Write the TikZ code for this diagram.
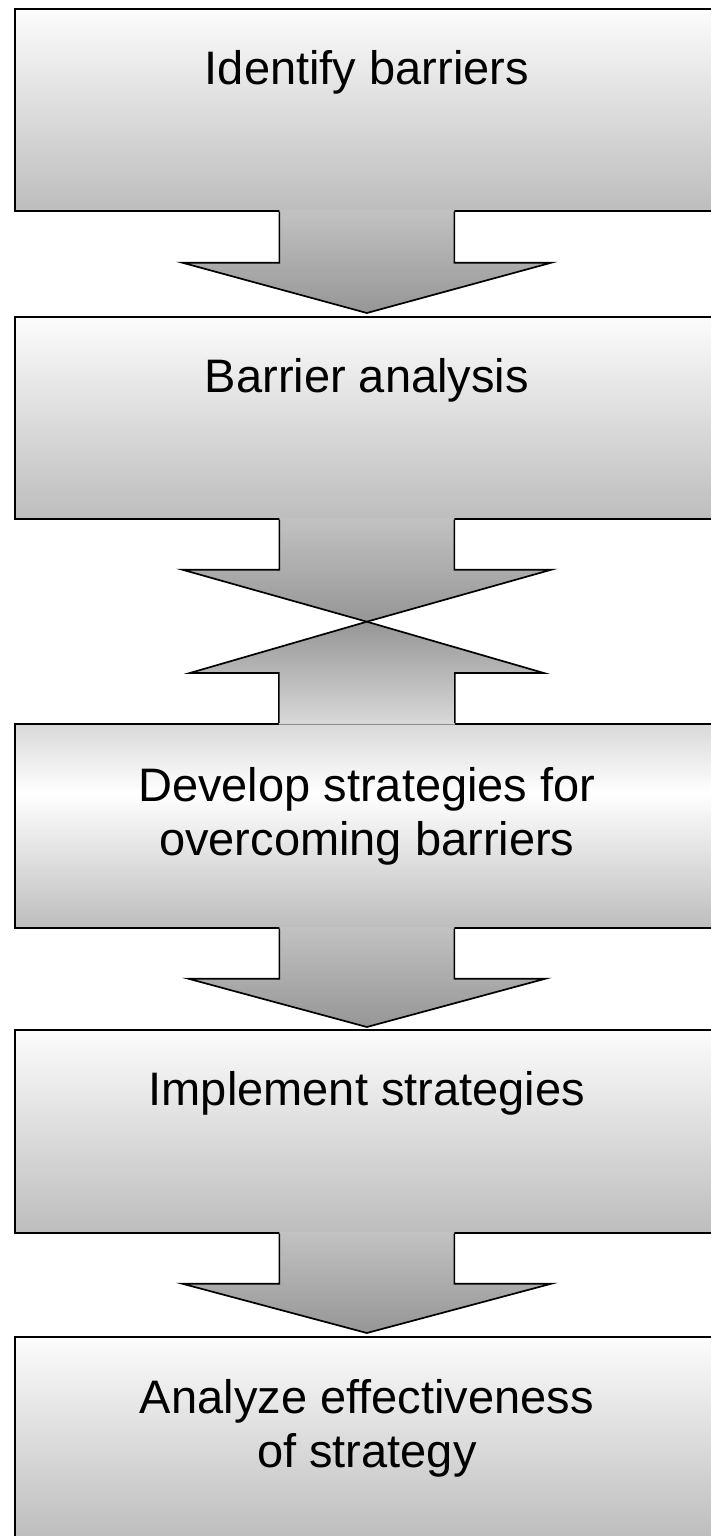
\documentclass[tikz,border=0pt]{standalone}
\usepackage{fontspec}
\setmainfont{Liberation Sans}
\usetikzlibrary{calc,shadings}

\definecolor{boxtop}{HTML}{FCFCFC}
\definecolor{boxbot}{HTML}{BDBDBD}
\definecolor{arrtop}{HTML}{C2C2C2}
\definecolor{arrbot}{HTML}{969696}
\definecolor{softgrey}{HTML}{D9D9D9}

% grey at the top, white a third of the way down, grey again at the bottom
\pgfdeclareverticalshading{midwhite}{100bp}{color(0bp)=(boxbot); color(25bp)=(boxbot); color(58bp)=(white); color(75bp)=(softgrey); color(100bp)=(softgrey)}

\tikzset{
  stage/.style={draw=black, line width=1.7pt, minimum width=704pt, anchor=north west,
    top color=boxtop, bottom color=boxbot, inner sep=0pt},
  % base anchor of a multi-line text is the baseline of its last line
  stagetext/.style={font=\fontsize{47}{54}\selectfont, align=center, anchor=base, inner sep=0pt},
  arrowline/.style={draw=black, line width=1.7pt, line join=miter},
}

% block arrow: #1 stem root on a box edge, #2 apex, #3 stem half width,
% #4 head half width, #5 stem length (signed), #6 overlap into the box, #7 fill options
\newcommand{\blockarrow}[7]{%
  \path[#7] ($(#1)+(-#3,#6)$) -- ($(#1)+(-#3,#5)$) -- ($(#1)+(-#4,#5)$) -- (#2)
    -- ($(#1)+(#4,#5)$) -- ($(#1)+(#3,#5)$) -- ($(#1)+(#3,#6)$) -- cycle;
  \draw[arrowline] ($(#1)+(-#3,0)$) -- ($(#1)+(-#3,#5)$) -- ($(#1)+(-#4,#5)$) -- (#2)
    -- ($(#1)+(#4,#5)$) -- ($(#1)+(#3,#5)$) -- ($(#1)+(#3,0)$);
}

\begin{document}
\begin{tikzpicture}[x=1pt, y=-1pt]
  \fill[white] (0,0) rectangle (711,1536);
  \useasboundingbox (0,0) rectangle (711,1536);
  \clip (0,0) rectangle (711,1536);

  % stages
  \node[stage, minimum height=202pt] (b1) at (14,8) {};
  \node[stage, minimum height=202pt] (b2) at (14,316) {};
  \node[stage, minimum height=204pt, shading=midwhite] (b3) at (14,723) {};
  \node[stage, minimum height=203pt] (b4) at (14,1029) {};
  \node[stage, minimum height=202pt] (b5) at (14,1336) {};

  \node[stagetext] (t1) at ($(b1.north)+(0,77)$) {Identify barriers};
  \node[stagetext] (t2) at ($(b2.north)+(0,76)$) {Barrier analysis};
  \node[stagetext] (t3) at ($(b3.north)+(0,132)$) {Develop strategies for\\overcoming barriers};
  \node[stagetext] (t4) at ($(b4.north)+(0,76)$) {Implement strategies};
  \node[stagetext] (t5) at ($(b5.north)+(0,131)$) {Analyze effectiveness\\of strategy};

  % meeting point of the two opposed arrows between stages 2 and 3
  \coordinate (x23) at ($(b2.south)+(0,102)$);

  % connectors
  \blockarrow{b1.south}{$(b2.north)+(0,-3)$}{87.5}{184.5}{51}{-1.5}{top color=arrtop, bottom color=arrbot}
  \blockarrow{b2.south}{x23}{87.5}{184.5}{50}{-1.5}{top color=arrtop, bottom color=arrbot}
  \blockarrow{b3.north}{x23}{88}{177}{-50}{1.5}{top color=arrbot, bottom color=softgrey}
  \blockarrow{b3.south}{$(b4.north)+(0,-2)$}{87.5}{178.5}{50}{-1.5}{top color=arrtop, bottom color=arrbot}
  \blockarrow{b4.south}{$(b5.north)+(0,-3)$}{87.5}{184.5}{50}{-1.5}{top color=arrtop, bottom color=arrbot}
\end{tikzpicture}
\end{document}
